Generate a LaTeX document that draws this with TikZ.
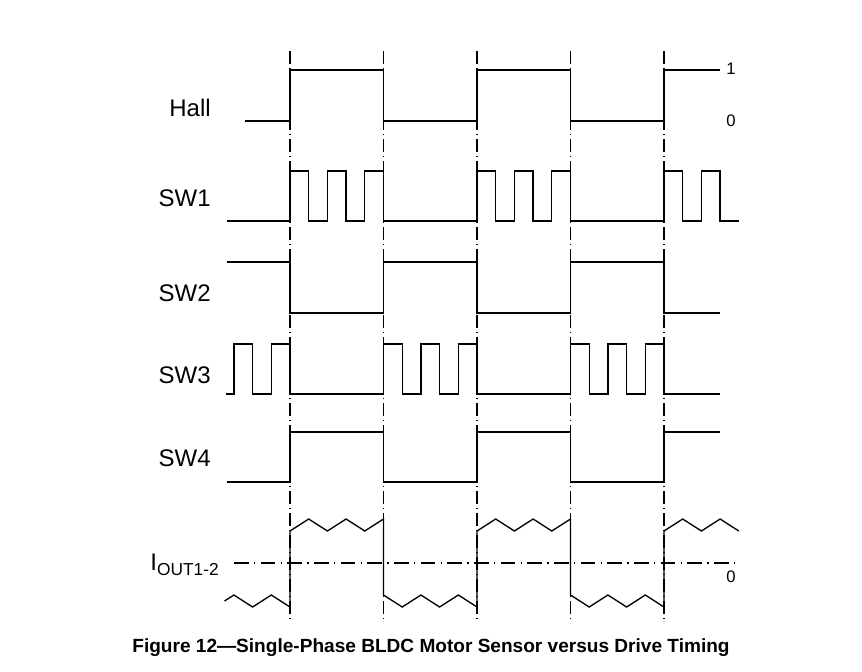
\documentclass[tikz,border=0pt]{standalone}
\usepackage{fontspec}
\setmainfont{Liberation Sans}
\usetikzlibrary{calc}

\begin{document}
\begin{tikzpicture}[x=0.75pt,y=-0.75pt,
    trace/.style={line width=1pt,line join=miter},
    guide/.style={line width=1pt,dash pattern=on 9.75pt off 3pt on 0.75pt off 3pt},
    zeroline/.style={line width=0.9pt,dash pattern=on 11pt off 4pt on 1pt off 4pt},
    siglabel/.style={font=\fontsize{18}{20}\selectfont,anchor=east,inner sep=0pt},
    levellabel/.style={font=\fontsize{12.5}{14}\selectfont,inner sep=0pt}]
    \useasboundingbox (0,0) rectangle (862,671);
    \foreach \x in {290,383.5,477,570.5,664}
        \draw[guide] (\x,51) -- (\x,619);
    \draw[zeroline] (234,563) -- (738.8,563);
    \node[siglabel] (hall) at (211,108) {Hall};
    \node[siglabel] (swone) at (211,198) {SW1};
    \node[siglabel] (swtwo) at (211,293) {SW2};
    \node[siglabel] (swthree) at (211,375) {SW3};
    \node[siglabel] (swfour) at (211,458) {SW4};
    \node[siglabel,anchor=base east] (iout) at (219,570) {I\raisebox{-0.45ex}{\fontsize{13}{15}\selectfont OUT1-2}};
    \node[levellabel] (hallhigh) at (731,69) {1};
    \node[levellabel] (halllow) at (731,121) {0};
    \node[levellabel] (ioutzero) at (731,577) {0};
    \draw[trace] (245,121) -| (290,70) -| (383.5,121) -| (477,70) -| (570.5,121) -| (664,70) -- (720,70);
    \draw[trace] (227,221) foreach \s/\a/\b in {290/0/2,477/0/2,664/0/1} {
        foreach \k in {\a,...,\b} { -- (\s+\k*37.4,221) -- ++(0,-50) -- ++(18.7,0) -- ++(0,50) } } -- (738.8,221);
    \draw[trace] (227,262) -| (290,313) -| (383.5,262) -| (477,313) -| (570.5,262) -| (664,313) -- (720,313);
    \draw[trace] (226,394) foreach \s/\a/\b in {196.5/1/2,383.5/0/2,570.5/0/2} {
        foreach \k in {\a,...,\b} { -- (\s+\k*37.4,394) -- ++(0,-50) -- ++(18.7,0) -- ++(0,50) } } -- (720,394);
    \draw[trace] (227,482) -| (290,432) -| (383.5,482) -| (477,432) -| (570.5,482) -| (664,432) -- (720,432);
    \draw[trace] (224.55,601) foreach \k in {2,...,5} { -- (196.5+\k*18.7,{601-6*cos(180*\k)}) }
        foreach \s in {290,477} {
            foreach \k in {0,...,5} { -- (\s+\k*18.7,{525+6*cos(180*\k)}) }
            foreach \k in {0,...,5} { -- (\s+93.5+\k*18.7,{601-6*cos(180*\k)}) } }
        foreach \k in {0,...,4} { -- (664+\k*18.7,{525+6*cos(180*\k)}) };
    \node[font=\fontsize{14.3}{16}\selectfont\bfseries] (caption) at (431,648) {Figure 12---Single-Phase BLDC Motor Sensor versus Drive Timing};
\end{tikzpicture}
\end{document}
